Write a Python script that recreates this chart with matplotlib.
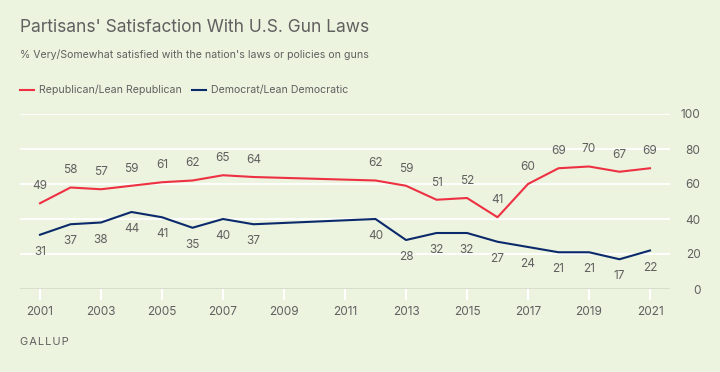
import matplotlib
matplotlib.use("Agg")
import matplotlib.pyplot as plt
import numpy as np

# ── Data ───────────────────────────────────────────────────────────────────────
years = [2001, 2002, 2003, 2004, 2005, 2006, 2007, 2008,
         2012, 2013, 2014, 2015, 2016, 2017, 2018, 2019, 2020, 2021]
rep = [49, 58, 57, 59, 61, 62, 65, 64, 62, 59, 51, 52, 41, 60, 69, 70, 67, 69]
dem = [31, 37, 38, 44, 41, 35, 40, 37, 40, 28, 32, 32, 27, 24, 21, 21, 17, 22]
xticks = list(range(2001, 2022, 2))
yticks = [0, 20, 40, 60, 80, 100]

BG    = "#ecf3de"
RED   = "#ee3043"
NAVY  = "#0b2a6b"
GRAY  = "#606060"

plt.rcParams["font.family"] = ["Inter", "DejaVu Sans"]

fig = plt.figure(figsize=(7.2, 3.72), dpi=100, facecolor=BG)
ax = fig.add_axes([20 / 720, 83 / 372, 650 / 720, 175 / 372], facecolor=BG)

ax.set_xlim(2001 - 20 / 30.5, 2021 + 20 / 30.5)
ax.set_ylim(0, 100)

# gridlines
for y in yticks[1:]:
    ax.axhline(y, color="white", lw=1.3, zorder=1)
ax.axhline(0, color="#d6dbcd", lw=2, zorder=1)

ax.plot(years, rep, color=RED, lw=1.5, zorder=3, solid_joinstyle="round")
ax.plot(years, dem, color=NAVY, lw=1.5, zorder=3, solid_joinstyle="round")

for x, v in zip(years, rep):
    ax.annotate(str(v), (x, v), xytext=(0, 8), textcoords="offset points",
                ha="center", va="bottom", fontsize=8.5, color=GRAY)
for x, v in zip(years, dem):
    ax.annotate(str(v), (x, v), xytext=(0, -8), textcoords="offset points",
                ha="center", va="top", fontsize=8.5, color=GRAY)

for s in ax.spines.values():
    s.set_visible(False)

ax.set_xticks(xticks)
ax.set_xticklabels([str(t) for t in xticks])
ax.tick_params(axis="x", length=8, width=1.5, color="white", pad=4,
               labelsize=8.5, labelcolor=GRAY)

ax.set_yticks(yticks)
ax.yaxis.tick_right()
ax.tick_params(axis="y", length=0, pad=22, labelsize=8.5, labelcolor=GRAY)
for lab in ax.get_yticklabels():
    lab.set_horizontalalignment("right")

# ── Text ───────────────────────────────────────────────────────────────────────
fig.text(20 / 720, 1 - 27 / 372, "Partisans' Satisfaction With U.S. Gun Laws",
         fontsize=12.5, color=GRAY, va="center", ha="left")
fig.text(20 / 720, 1 - 55 / 372,
         "% Very/Somewhat satisfied with the nation's laws or policies on guns",
         fontsize=7.6, color=GRAY, va="center", ha="left")

# legend
ly = 1 - 90 / 372
fig.add_artist(plt.Line2D([20 / 720, 34 / 720], [ly, ly], color=RED, lw=1.5))
fig.text(39 / 720, ly, "Republican/Lean Republican", fontsize=7.6,
         color=GRAY, va="center", ha="left")
fig.add_artist(plt.Line2D([192 / 720, 206 / 720], [ly, ly], color=NAVY, lw=1.5))
fig.text(211 / 720, ly, "Democrat/Lean Democratic", fontsize=7.6,
         color=GRAY, va="center", ha="left")

fig.text(20 / 720, 1 - 342 / 372, "G A L L U P".replace(" ", "\u200a"),
         fontsize=8, color=GRAY, va="center", ha="left")

fig.savefig("out.png", dpi=100, facecolor=BG)
